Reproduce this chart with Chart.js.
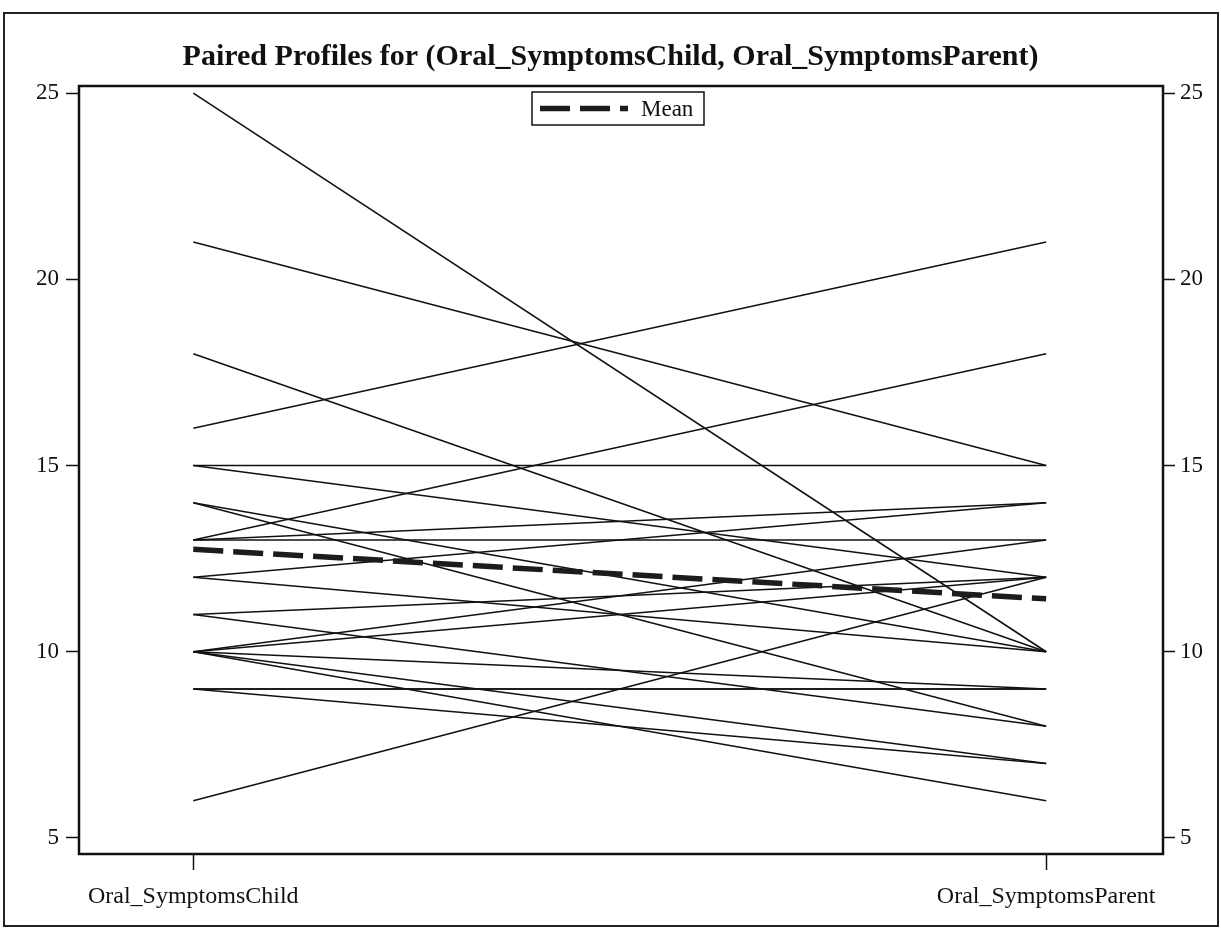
<!DOCTYPE html>
<html>
<head>
<meta charset="utf-8">
<script src="https://cdn.jsdelivr.net/npm/chart.js@4.4.1/dist/chart.umd.min.js"></script>
<style>
    html, body { margin: 0; padding: 0; background: #fff; }
    #wrap { width: 1221px; height: 928px; }
</style>
</head>
<body>
<div id="wrap"><canvas id="profileChart" width="1221" height="928"></canvas></div>
<script>
(function () {
    // one entry per subject: child score -> parent score
    const childScores = [25, 21, 18, 16, 15, 15, 14, 14, 13, 13, 13, 12, 12, 11, 11, 10, 10, 10, 10, 10, 9, 9, 9, 6];
    const parentScores = [10, 15, 10, 21, 15, 12, 10, 8, 13, 18, 14, 14, 10, 12, 8, 13, 12, 9, 7, 6, 9, 9, 7, 12];
    const meanScores = [12.75, 11.42];
    const categories = ['Oral_SymptomsChild', 'Oral_SymptomsParent'];
    const yTicks = [5, 10, 15, 20, 25];
    const titleText = 'Paired Profiles for (Oral_SymptomsChild, Oral_SymptomsParent)';

    const serif = "'Liberation Serif', 'DejaVu Serif', serif";

    const datasets = childScores.map(function (c, i) {
        return {
            data: [{ x: 1, y: c }, { x: 2, y: parentScores[i] }],
            borderColor: '#111',
            borderWidth: 1.6,
            pointRadius: 0,
            order: 2
        };
    });
    datasets.push({
        label: 'Mean',
        data: [{ x: 1, y: meanScores[0] }, { x: 2, y: meanScores[1] }],
        borderColor: '#1c1c1c',
        borderWidth: 5.5,
        borderDash: [30, 10],
        pointRadius: 0,
        order: 1
    });

    const framePlugin = {
        id: 'frame',
        beforeDraw(chart) {
            const ctx = chart.ctx;
            ctx.save();
            ctx.fillStyle = '#fff';
            ctx.fillRect(0, 0, chart.width, chart.height);
            ctx.strokeStyle = '#222';
            ctx.lineWidth = 2;
            ctx.strokeRect(4, 13, 1214, 913);
            ctx.restore();
        },
        afterDraw(chart) {
            const a = chart.chartArea;
            const ctx = chart.ctx;
            ctx.save();
            ctx.strokeStyle = '#111';
            ctx.lineWidth = 2.5;
            ctx.strokeRect(a.left, a.top, a.right - a.left, a.bottom - a.top);

            // legend box inside the plot
            const bx = 532, by = 92, bw = 172, bh = 33;
            ctx.fillStyle = '#fff';
            ctx.fillRect(bx, by, bw, bh);
            ctx.lineWidth = 1.5;
            ctx.strokeRect(bx, by, bw, bh);
            ctx.beginPath();
            ctx.setLineDash([30, 10]);
            ctx.lineWidth = 5.5;
            ctx.strokeStyle = '#1c1c1c';
            ctx.moveTo(540, by + bh / 2);
            ctx.lineTo(628, by + bh / 2);
            ctx.stroke();
            ctx.setLineDash([]);
            ctx.fillStyle = '#111';
            ctx.font = '23px ' + serif;
            ctx.textBaseline = 'middle';
            ctx.fillText('Mean', 641, by + bh / 2 + 1);
            ctx.restore();
        }
    };

    function fixTicks(values) {
        return function (scale) {
            scale.ticks = values.map(function (v) { return { value: v }; });
        };
    }

    new Chart(document.getElementById('profileChart'), {
        type: 'line',
        data: { datasets: datasets },
        plugins: [framePlugin],
        options: {
            responsive: false,
            animation: false,
            layout: { padding: 0 },
            plugins: {
                legend: { display: false },
                tooltip: { enabled: false },
                title: {
                    display: true,
                    text: titleText,
                    color: '#111',
                    font: { family: serif, size: 30, weight: 'bold', lineHeight: 1.2 },
                    padding: { top: 39, bottom: 11 }
                }
            },
            scales: {
                x: {
                    type: 'linear',
                    min: 0.866,
                    max: 2.137,
                    afterBuildTicks: fixTicks([1, 2]),
                    afterFit(scale) { scale.height = 74; },
                    border: { display: false },
                    grid: { drawOnChartArea: false, tickLength: 16, color: '#111', tickWidth: 1.5 },
                    ticks: {
                        color: '#111',
                        padding: 12,
                        font: { family: serif, size: 24 },
                        callback: function (v) { return categories[v - 1]; }
                    }
                },
                y: {
                    position: 'left',
                    min: 4.57,
                    max: 25.19,
                    afterBuildTicks: fixTicks(yTicks),
                    afterFit(scale) { scale.width = 79; },
                    border: { display: false },
                    grid: { drawOnChartArea: false, tickLength: 13, color: '#111', tickWidth: 1.5 },
                    ticks: { color: '#111', padding: 7, font: { family: serif, size: 23 } }
                },
                y2: {
                    position: 'right',
                    min: 4.57,
                    max: 25.19,
                    afterBuildTicks: fixTicks(yTicks),
                    afterFit(scale) { scale.width = 58; },
                    border: { display: false },
                    grid: { drawOnChartArea: false, tickLength: 12, color: '#111', tickWidth: 1.5 },
                    ticks: { color: '#111', padding: 5, font: { family: serif, size: 23 } }
                }
            }
        }
    });
})();
</script>
</body>
</html>
